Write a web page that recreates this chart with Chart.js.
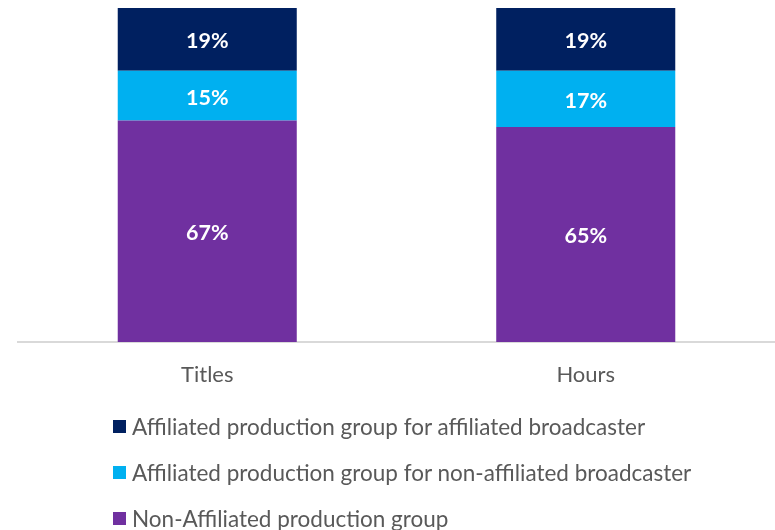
<!DOCTYPE html>
<html><head><meta charset="utf-8">
<script src="https://cdn.jsdelivr.net/npm/chart.js@4/dist/chart.umd.min.js"></script>
<style>
html,body{margin:0;padding:0;background:#fff;}
#wrap{position:relative;width:775px;height:530px;}
#legend{position:absolute;left:113px;top:403px;font-family:Lato,"Open Sans",sans-serif;font-size:22.5px;color:#595959;}
.item{display:flex;align-items:center;height:46px;white-space:nowrap;}
.sw{width:13px;height:13px;margin-right:6px;display:inline-block;}
</style></head>
<body><div id="wrap"><canvas id="c" width="775" height="530"></canvas><div id="legend"></div></div>
<script>
const categories = ["Titles", "Hours"];
const nonAffiliated = [67, 65];
const affNonAffBroadcaster = [15, 17];
const affAffBroadcaster = [19, 19];
const seriesNames = ["Non-Affiliated production group","Affiliated production group for non-affiliated broadcaster","Affiliated production group for affiliated broadcaster"];
const colors = ["#7030A0","#00B0F0","#002060"];

const labelPlugin = {
  id:'segLabels',
  afterDatasetsDraw(chart){
    const ctx = chart.ctx;
    ctx.save();
    ctx.fillStyle = '#ffffff';
    ctx.font = 'bold 21.5px Lato, "Open Sans", sans-serif';
    ctx.textAlign = 'center';
    ctx.textBaseline = 'middle';
    chart.data.datasets.forEach((ds,i)=>{
      chart.getDatasetMeta(i).data.forEach((el,j)=>{
        const p = el.getProps(['x','y','base'],true);
        ctx.fillText(ds.data[j]+'%', p.x, (p.y+p.base)/2 + 2);
      });
    });
    ctx.restore();
  }
};

new Chart(document.getElementById('c'), {
  type:'bar',
  data:{labels:categories, datasets:[
    {label:seriesNames[0], data:nonAffiliated, backgroundColor:colors[0]},
    {label:seriesNames[1], data:affNonAffBroadcaster, backgroundColor:colors[1]},
    {label:seriesNames[2], data:affAffBroadcaster, backgroundColor:colors[2]}
  ]},
  options:{
    responsive:false, animation:false,
    datasets:{bar:{categoryPercentage:1, barPercentage:0.473}},
    layout:{padding:{top:8,left:18,right:0,bottom:0}},
    plugins:{legend:{display:false}, tooltip:{enabled:false}},
    scales:{
      x:{stacked:true,
         grid:{display:false, drawTicks:false},
         border:{display:true,color:'#d9d9d9',width:2},
         ticks:{color:'#595959', font:{family:'Lato, "Open Sans", sans-serif', size:22}, padding:20},
         afterFit(s){ s.height = 530-342; }
      },
      y:{stacked:true, display:false, min:0, max:101}
    }
  },
  plugins:[labelPlugin]
});

const lg = document.getElementById('legend');
[2,1,0].forEach(i=>{
  const d=document.createElement('div'); d.className='item';
  d.innerHTML='<span class="sw" style="background:'+colors[i]+'"></span><span>'+seriesNames[i]+'</span>';
  lg.appendChild(d);
});
</script></body></html>
